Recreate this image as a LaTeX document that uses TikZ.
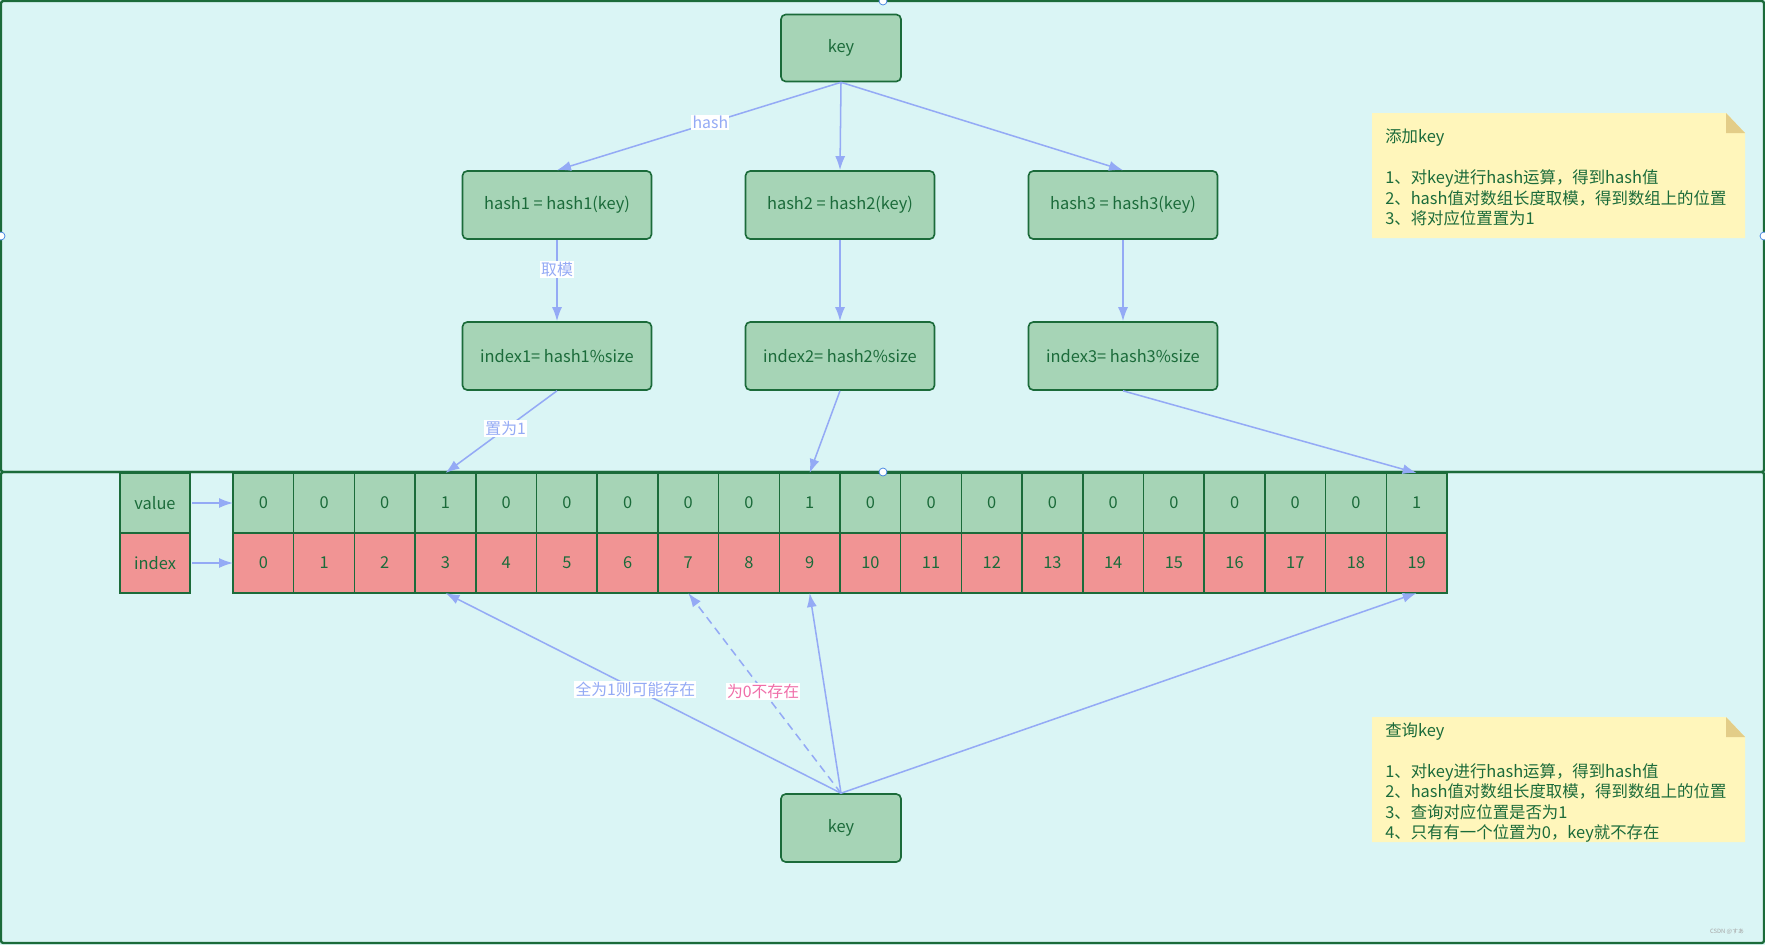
\documentclass[tikz,border=0pt]{standalone}
\usepackage{fontspec}
\setmainfont{Noto Sans CJK SC}
\newfontfamily\jpfont{Noto Sans CJK JP}
\usetikzlibrary{arrows.meta}
\definecolor{bgcyan}{HTML}{DAF5F5}
\definecolor{boxgreen}{HTML}{A6D4B6}
\definecolor{boxred}{HTML}{F19494}
\definecolor{darkgreen}{HTML}{1B6B3A}
\definecolor{arrowblue}{HTML}{94AAF5}
\definecolor{notefill}{HTML}{FFF6BB}
\definecolor{notefold}{HTML}{E3CD88}
\definecolor{labelpink}{HTML}{F06EA9}
\definecolor{handleblue}{HTML}{3D7FE0}

\tikzset{
  box/.style={draw=darkgreen, line width=1.4pt, fill=boxgreen, rounded corners=4pt,
    text=darkgreen, font=\fontsize{14}{16}\selectfont, minimum width=5.67cm, minimum height=2.04cm},
  cell/.style={draw=darkgreen, line width=1.3pt, text=darkgreen, font=\fontsize{14}{16}\selectfont,
    minimum width=1.821cm, minimum height=1.8cm, inner sep=0pt, outer sep=0pt},
  conn/.style={draw=arrowblue, line width=1.3pt, -{Latex[length=4.2mm,width=3mm]}},
  lbl/.style={fill=white, inner sep=1pt, text=arrowblue, font=\fontsize{13.5}{15}\selectfont},
  notetext/.style={anchor=north west, align=left, inner sep=0pt, text=darkgreen,
    font=\fontsize{14}{17.5}\selectfont},
  handle/.style={fill=white, draw=handleblue, line width=0.6pt}
}

\begin{document}
\begin{tikzpicture}[x=0.03cm, y=-0.03cm]
\useasboundingbox (0,0) rectangle (1765,945);
% frames
\fill[bgcyan] (0,0) rectangle (1765,945);
\draw[darkgreen, line width=2pt, rounded corners=2pt] (1,1) rectangle (1764,472);
\draw[darkgreen, line width=2pt, rounded corners=2pt] (1,472) rectangle (1764,943);

% adding a key
\node[box, minimum width=3.6cm, minimum height=2.01cm] (key1) at (841,48) {key};
\node[box] (h1) at (557,205) {hash1 = hash1(key)};
\node[box] (h2) at (840,205) {hash2 = hash2(key)};
\node[box] (h3) at (1123,205) {hash3 = hash3(key)};
\node[box] (ix1) at (557,356) {index1= hash1\%size};
\node[box] (ix2) at (840,356) {index2= hash2\%size};
\node[box] (ix3) at (1123,356) {index3= hash3\%size};

% bit array
\foreach \v [count=\i from 0] in {0,0,0,1,0,0,0,0,0,1,0,0,0,0,0,0,0,0,0,1} {
  \node[cell, fill=boxgreen] (v\i) at ({233+60.7*(\i+0.5)},503) {\v};
  \node[cell, fill=boxred] (c\i) at ({233+60.7*(\i+0.5)},563) {\i};
}
\node[cell, fill=boxgreen, minimum width=2.1cm] (valuelbl) at (155,503) {value};
\node[cell, fill=boxred, minimum width=2.1cm] (indexlbl) at (155,563) {index};

% query key
\node[box, minimum width=3.6cm, minimum height=2.04cm] (key2) at (841,828) {key};

% arrows
\draw[conn] (key1.south) -- (h1.north) node[lbl, pos=0.46] {hash};
\draw[conn] (key1.south) -- (h2.north);
\draw[conn] (key1.south) -- (h3.north);
\draw[conn] (h1) -- (ix1) node[lbl, pos=0.37] {取模};
\draw[conn] (h2) -- (ix2);
\draw[conn] (h3) -- (ix3);
\draw[conn] (ix1.south) -- (v3.north) node[lbl, pos=0.46] {置为1};
\draw[conn] (ix2.south) -- (v9.north);
\draw[conn] (ix3.south) -- (v19.north);
\draw[conn, shorten <=2pt] (valuelbl) -- (v0);
\draw[conn, shorten <=2pt] (indexlbl) -- (c0);
\draw[conn] (key2.north) -- (c3.south) node[lbl, pos=0.52] {全为1则可能存在};
\draw[conn, dash pattern=on 2.4mm off 1.6mm] (key2.north) -- (c7.south)
  node[lbl, text=labelpink, pos=0.51] {为0不存在};
\draw[conn] (key2.north) -- (c9.south);
\draw[conn] (key2.north) -- (c19.south);

% notes
\fill[notefill] (1372,113) -- (1726,113) -- (1745,133) -- (1745,238) -- (1372,238) -- cycle;
\fill[notefold] (1726,113) -- (1726,133) -- (1745,133) -- cycle;
\node[notetext] (addnote) at (1385,129) {添加key\\ \\1、对key进行hash运算，得到hash值\\2、hash值对数组长度取模，得到数组上的位置\\3、将对应位置置为1};
\fill[notefill] (1372,717) -- (1726,717) -- (1745,737) -- (1745,842) -- (1372,842) -- cycle;
\fill[notefold] (1726,717) -- (1726,737) -- (1745,737) -- cycle;
\node[notetext] (querynote) at (1385,722) {查询key\\ \\1、对key进行hash运算，得到hash值\\2、hash值对数组长度取模，得到数组上的位置\\3、查询对应位置是否为1\\4、只有有一个位置为0，key就不存在};

% handles and watermark
\filldraw[handle] (883,1) circle (4);
\filldraw[handle] (1,236) circle (4);
\filldraw[handle] (1764,236) circle (4);
\filldraw[handle] (883,472) circle (4);
\node[text=gray!70, font=\jpfont\fontsize{5}{6}\selectfont] (mark) at (1727,932) {CSDN @すあ};
\end{tikzpicture}
\end{document}
